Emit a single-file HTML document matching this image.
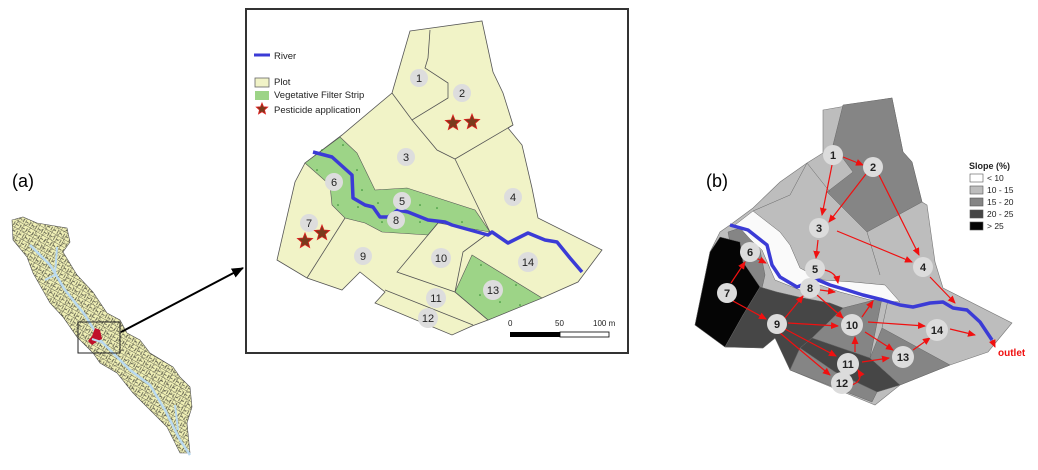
<!DOCTYPE html>
<html><head><meta charset="utf-8"><style>
html,body{margin:0;padding:0;background:#fff;}
svg{display:block;font-family:"Liberation Sans","DejaVu Sans",sans-serif;}
</style></head><body>
<svg width="1038" height="470" viewBox="0 0 1038 470" xmlns="http://www.w3.org/2000/svg">
<defs>
<pattern id="hatch" width="7" height="7" patternUnits="userSpaceOnUse" patternTransform="rotate(30)">
<path d="M0 0H7M0 0V7M0 4H3M5 2V6" stroke="#222" stroke-width="0.7" fill="none"/>
</pattern>
<pattern id="hatch2" width="11" height="11" patternUnits="userSpaceOnUse" patternTransform="rotate(-25)">
<path d="M0 0H11M0 0V11M3 6H9" stroke="#222" stroke-width="0.6" fill="none"/>
</pattern>
<marker id="ar" markerWidth="8" markerHeight="8" refX="7" refY="4" orient="auto" markerUnits="userSpaceOnUse">
<path d="M0,0.5 L8,4 L0,7.5 z" fill="#f01010"/></marker>
<marker id="ak" markerWidth="12" markerHeight="12" refX="11" refY="6" orient="auto" markerUnits="userSpaceOnUse">
<path d="M0,1 L12,6 L0,11 z" fill="#000"/></marker>
</defs>

<!-- (a) -->
<text x="12" y="187" font-size="18">(a)</text>
<polygon id="lm" points="12,220 23,217 37,223 67,228 70,242 63,252 77,275 93,292 107,313 120,320 127,333 140,340 150,353 173,367 180,377 190,387 192,407 187,423 190,453 180,453 167,427 147,407 133,393 117,373 100,363 93,353 77,337 63,317 50,303 33,273 27,257 13,240" fill="#efefb5" stroke="#555" stroke-width="0.6"/>
<polygon points="12,220 23,217 37,223 67,228 70,242 63,252 77,275 93,292 107,313 120,320 127,333 140,340 150,353 173,367 180,377 190,387 192,407 187,423 190,453 180,453 167,427 147,407 133,393 117,373 100,363 93,353 77,337 63,317 50,303 33,273 27,257 13,240" fill="url(#hatch)" opacity="0.8"/>
<polygon points="12,220 23,217 37,223 67,228 70,242 63,252 77,275 93,292 107,313 120,320 127,333 140,340 150,353 173,367 180,377 190,387 192,407 187,423 190,453 180,453 167,427 147,407 133,393 117,373 100,363 93,353 77,337 63,317 50,303 33,273 27,257 13,240" fill="url(#hatch2)" opacity="0.7"/>
<polyline points="30,245 50,265 65,290 85,315 100,340 130,370 150,385 165,410 180,440 190,455" fill="none" stroke="#b9d9ef" stroke-width="2.5"/>
<polyline points="57,247 55,275 45,280" fill="none" stroke="#b9d9ef" stroke-width="2"/>
<polyline points="175,405 178,430" fill="none" stroke="#b9d9ef" stroke-width="2"/>
<rect x="78" y="322" width="42" height="31" fill="none" stroke="#222" stroke-width="1"/>
<polygon points="95,328 100,330 102,339 98,341 92,345 88,341 92,336" fill="#c0102a"/>
<line x1="92" y1="339" x2="104" y2="343" stroke="#b9d9ef" stroke-width="2"/>
<line x1="121" y1="332" x2="243" y2="268" stroke="#000" stroke-width="2" marker-end="url(#ak)"/>

<!-- middle panel -->
<rect x="246" y="9" width="382" height="344" fill="#fff" stroke="#333" stroke-width="2"/>
<polygon points="410,31 482,21 493,72 503,93 513,125 508,128 522,145 532,188 538,218 602,250 578,282 542,298 488,320 472,326 452,335 375,303 385,292 360,272 342,290 307,278 277,260 295,182 305,163 342,135 392,93" fill="#f1f3c7" stroke="#555" stroke-width="0.8"/>
<polygon points="305,163 340,137 357,153 375,190 407,188 475,210 490,232 438,223 428,235 382,232 365,223 345,218 332,205 330,185" fill="#9dd487" stroke="#555" stroke-width="0.6"/>
<polygon points="472,255 542,298 488,320 455,292" fill="#9dd487" stroke="#555" stroke-width="0.6"/>
<g fill="none" stroke="#555" stroke-width="0.8">
<polyline points="430,30 428,58 425,68 448,83 448,98 412,120 392,93"/>
<polyline points="412,120 437,150 455,159 513,125"/>
<polyline points="455,159 490,232"/>
<polyline points="345,218 307,278"/>
<polyline points="438,223 397,272 455,292 488,320"/>
<polyline points="385,290 473,325"/>
<polyline points="490,232 463,252 455,292"/>
</g>
<g fill="#2a8a2a"><circle cx="322" cy="150" r="0.8"/><circle cx="343" cy="145" r="0.8"/><circle cx="317" cy="170" r="0.8"/><circle cx="357" cy="170" r="0.8"/><circle cx="362" cy="190" r="0.8"/><circle cx="338" cy="205" r="0.8"/><circle cx="358" cy="207" r="0.8"/><circle cx="378" cy="203" r="0.8"/><circle cx="382" cy="222" r="0.8"/><circle cx="420" cy="205" r="0.8"/><circle cx="437" cy="208" r="0.8"/><circle cx="420" cy="222" r="0.8"/><circle cx="462" cy="222" r="0.8"/><circle cx="481" cy="232" r="0.8"/><circle cx="481" cy="265" r="0.8"/><circle cx="516" cy="285" r="0.8"/><circle cx="480" cy="295" r="0.8"/><circle cx="500" cy="302" r="0.8"/><circle cx="520" cy="305" r="0.8"/></g>
<polyline points="313,152 332,157 352,175 353,198 365,205 373,207 380,217 388,217 398,210 408,212 428,220 445,222 452,225 488,235 492,232 508,243 528,233 545,240 557,242 570,258 582,272" fill="none" stroke="#3b3bd6" stroke-width="3.5" stroke-linejoin="round"/>
<g fill="#ddd"><circle cx="419" cy="78" r="9"/><circle cx="462" cy="93" r="9"/><circle cx="406" cy="157" r="9"/><circle cx="513" cy="197" r="9"/><circle cx="402" cy="201" r="9"/><circle cx="334" cy="182" r="9"/><circle cx="309" cy="223" r="9"/><circle cx="396" cy="220" r="9"/><circle cx="363" cy="256" r="9"/><circle cx="441" cy="258" r="10"/><circle cx="436" cy="298" r="10"/><circle cx="428" cy="318" r="10"/><circle cx="493" cy="290" r="10"/><circle cx="528" cy="262" r="10"/></g>
<g font-size="11" text-anchor="middle" fill="#222">
<text x="419" y="82">1</text><text x="462" y="97">2</text><text x="406" y="161">3</text><text x="513" y="201">4</text><text x="402" y="205">5</text><text x="334" y="186">6</text><text x="309" y="227">7</text><text x="396" y="224">8</text><text x="363" y="260">9</text><text x="441" y="262">10</text><text x="436" y="302">11</text><text x="428" y="322">12</text><text x="493" y="294">13</text><text x="528" y="266">14</text></g>
<g fill="#7a3a1c" stroke="#e02020" stroke-width="0.8">
<polygon points="0,-8 2,-3 7.6,-2.5 3.3,1.2 4.7,6.5 0,3.7 -4.7,6.5 -3.3,1.2 -7.6,-2.5 -2,-3" transform="translate(453,123)"/>
<polygon points="0,-8 2,-3 7.6,-2.5 3.3,1.2 4.7,6.5 0,3.7 -4.7,6.5 -3.3,1.2 -7.6,-2.5 -2,-3" transform="translate(472,122)"/>
<polygon points="0,-8 2,-3 7.6,-2.5 3.3,1.2 4.7,6.5 0,3.7 -4.7,6.5 -3.3,1.2 -7.6,-2.5 -2,-3" transform="translate(305,241)"/>
<polygon points="0,-8 2,-3 7.6,-2.5 3.3,1.2 4.7,6.5 0,3.7 -4.7,6.5 -3.3,1.2 -7.6,-2.5 -2,-3" transform="translate(322,233)"/>
<polygon points="0,-6 1.5,-2.2 5.7,-1.9 2.5,0.9 3.5,4.9 0,2.8 -3.5,4.9 -2.5,0.9 -5.7,-1.9 -1.5,-2.2" transform="translate(262,109)"/>
</g>
<line x1="254" y1="55" x2="270" y2="55" stroke="#3b3bd6" stroke-width="3"/>
<g font-size="9.5" fill="#222"><text x="274" y="59">River</text><text x="274" y="85">Plot</text><text x="274" y="98">Vegetative Filter Strip</text><text x="274" y="113">Pesticide application</text></g>
<rect x="255" y="78" width="14" height="9" fill="#f1f3c7" stroke="#666" stroke-width="0.8"/>
<rect x="255" y="91" width="14" height="9" fill="#9dd487"/>
<rect x="510" y="332" width="50" height="5" fill="#000"/>
<rect x="560" y="332" width="49" height="5" fill="#fff" stroke="#000" stroke-width="0.8"/>
<g font-size="8" fill="#222"><text x="508" y="326">0</text><text x="555" y="326">50</text><text x="593" y="326">100 m</text></g>

<!-- (b) -->
<text x="706" y="187" font-size="18">(b)</text>
<polygon points="823,110 892,98 903,152 912,162 922,202 927,205 935,262 943,288 1012,323 988,352 950,365 900,385 875,405 790,370 797,357 775,338 763,348 725,347 695,325 710,252 720,232 730,225 753,208 780,182 807,163 823,153" fill="#bdbdbd" stroke="#777" stroke-width="0.6"/>
<g stroke="#666" stroke-width="0.5">
<polygon points="843,105 892,98 903,152 912,162 922,202 867,232 827,192 853,172 833,145" fill="#858585"/>
<polygon points="735,225 753,211 780,232 790,245 800,268 823,280 853,282 885,285 900,302 870,300 840,292 820,285 800,290 775,280 762,250 745,235" fill="#fafafa"/>
<polygon points="728,232 740,228 760,250 765,275 762,288 745,290 735,270" fill="#858585"/>
<polygon points="695,325 710,252 720,237 740,242 743,262 760,287 743,315 725,347" fill="#050505"/>
<polygon points="760,287 777,292 803,298 830,303 843,308 812,338 800,348 790,370 775,338 763,348 725,347 743,315" fill="#464646"/>
<polygon points="812,338 843,308 882,298 870,358" fill="#858585"/>
<polygon points="800,348 812,338 870,358 900,385 877,392 835,372" fill="#464646"/>
<polygon points="790,370 800,348 835,372 877,392 872,402" fill="#858585"/>
<polygon points="870,358 882,328 950,365 900,385" fill="#858585"/>
<polyline points="807,163 830,192" fill="none"/><polyline points="867,232 880,275" fill="none"/><polyline points="882,328 888,300" fill="none"/><polyline points="753,211 790,195 807,163" fill="none"/>
</g>
<polyline points="730,225 748,230 767,245 772,265 780,277 797,287 810,282 818,280 830,285 847,290 863,295 883,300 900,305 913,307 930,303 943,302 953,308 967,310 980,322 992,340" fill="none" stroke="#3b3bd6" stroke-width="3.5" stroke-linejoin="round"/>
<g stroke="#f01010" stroke-width="1.2" fill="none" marker-end="url(#ar)">
<line x1="843" y1="157" x2="863" y2="165"/><line x1="832" y1="165" x2="822" y2="215"/><line x1="866" y1="174" x2="829" y2="222"/><line x1="879" y1="175" x2="919" y2="255"/><line x1="837" y1="231" x2="912" y2="262"/><line x1="818" y1="240" x2="816" y2="258"/>
<path d="M824,270 Q836,272 838,283"/><line x1="820" y1="290" x2="835" y2="292"/><line x1="756" y1="258" x2="766" y2="263"/>
<line x1="731" y1="283" x2="745" y2="262"/><line x1="733" y1="301" x2="766" y2="319"/><line x1="785" y1="318" x2="803" y2="296"/><line x1="817" y1="295" x2="843" y2="318"/><line x1="788" y1="323" x2="838" y2="326"/><line x1="862" y1="317" x2="873" y2="301"/><line x1="868" y1="322" x2="925" y2="326"/><line x1="865" y1="332" x2="893" y2="350"/><line x1="785" y1="329" x2="836" y2="356"/><line x1="780" y1="333" x2="830" y2="375"/><line x1="855" y1="352" x2="855" y2="337"/><line x1="862" y1="362" x2="889" y2="358"/><path d="M852,385 Q864,380 858,370"/><line x1="913" y1="350" x2="930" y2="338"/><line x1="950" y1="329" x2="975" y2="335"/><line x1="930" y1="277" x2="955" y2="303"/><line x1="992" y1="340" x2="995" y2="347"/>
</g>
<text x="998" y="356" font-size="10" font-weight="bold" fill="#f01010">outlet</text>
<g fill="#dcdcdc"><circle cx="833" cy="155" r="10"/><circle cx="873" cy="167" r="10"/><circle cx="819" cy="228" r="10"/><circle cx="923" cy="267" r="10"/><circle cx="815" cy="269" r="10"/><circle cx="750" cy="252" r="10"/><circle cx="727" cy="293" r="10"/><circle cx="810" cy="288" r="10"/><circle cx="777" cy="324" r="10"/><circle cx="852" cy="325" r="11"/><circle cx="848" cy="364" r="11"/><circle cx="842" cy="383" r="11"/><circle cx="903" cy="357" r="11"/><circle cx="937" cy="330" r="11"/></g>
<g font-size="11" font-weight="bold" text-anchor="middle" fill="#222">
<text x="833" y="159">1</text><text x="873" y="171">2</text><text x="819" y="232">3</text><text x="923" y="271">4</text><text x="815" y="273">5</text><text x="750" y="256">6</text><text x="727" y="297">7</text><text x="810" y="292">8</text><text x="777" y="328">9</text><text x="852" y="329">10</text><text x="848" y="368">11</text><text x="842" y="387">12</text><text x="903" y="361">13</text><text x="937" y="334">14</text></g>
<text x="969" y="169" font-size="9" font-weight="bold" fill="#222">Slope (%)</text>
<g stroke="#555" stroke-width="0.6"><rect x="970" y="174" width="13" height="8" fill="#fff"/><rect x="970" y="186" width="13" height="8" fill="#bdbdbd"/><rect x="970" y="198" width="13" height="8" fill="#858585"/><rect x="970" y="210" width="13" height="8" fill="#464646"/><rect x="970" y="222" width="13" height="8" fill="#050505"/></g>
<g font-size="8.5" fill="#222"><text x="987" y="181">&lt; 10</text><text x="987" y="193">10 - 15</text><text x="987" y="205">15 - 20</text><text x="987" y="217">20 - 25</text><text x="987" y="229">&gt; 25</text></g>
</svg>
</body></html>
